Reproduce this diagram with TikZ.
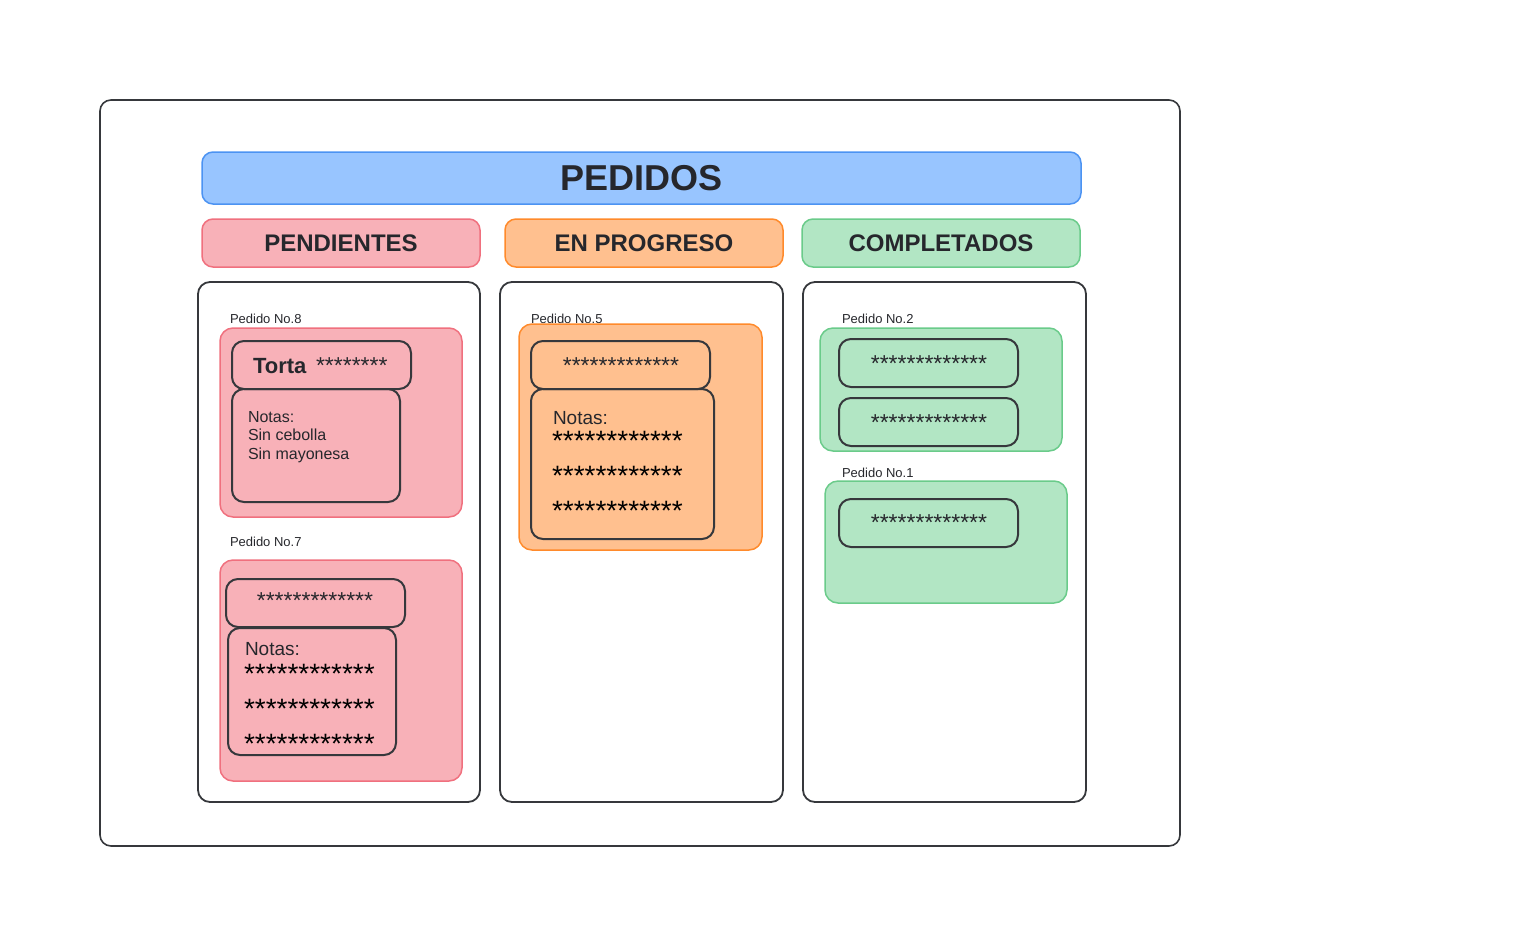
\documentclass[tikz,border=0pt]{standalone}
\usepackage{fontspec}
\setmainfont{Liberation Sans}
\usepackage{tikz}
\usetikzlibrary{positioning}

\definecolor{tinta}{HTML}{26272C}
\definecolor{marco}{HTML}{36383C}
\definecolor{azulF}{HTML}{98C5FF}
\definecolor{azulB}{HTML}{4C93F2}
\definecolor{rosaF}{HTML}{F8B1B8}
\definecolor{rosaB}{HTML}{F0707E}
\definecolor{naranjaF}{HTML}{FFC08F}
\definecolor{naranjaB}{HTML}{FF8A2B}
\definecolor{verdeF}{HTML}{B2E6C4}
\definecolor{verdeB}{HTML}{6ACB8A}

\begin{document}
\begin{tikzpicture} [
        x=1pt, y=-1pt,
        every node/.style={inner sep=0pt, outer sep=0pt, text=tinta},
        tam/.style 2 args={anchor=north west, minimum width=#1pt, minimum height=#2pt},
        tablero/.style={draw=marco, line width=1.6pt, rounded corners=11pt},
        columna/.style={draw=marco, line width=1.8pt, rounded corners=12pt},
        cabecera/.style={rounded corners=11pt, line width=1.5pt, font=\bfseries\fontsize{24}{28}\selectfont},
        tarjeta/.style={rounded corners=13pt, line width=1.5pt},
        renglon/.style={draw=marco, line width=2pt, rounded corners=12pt},
        rosa/.style={fill=rosaF, draw=rosaB},
        naranja/.style={fill=naranjaF, draw=naranjaB},
        verde/.style={fill=verdeF, draw=verdeB},
        pedido/.style={anchor=base west, font=\fontsize{13}{15}\selectfont},
        estrellas/.style={anchor=base, font=\fontsize{23}{26}\selectfont},
        notas/.style={anchor=north west, align=left, font=\fontsize{16}{18.5}\selectfont},
        notasG/.style={anchor=base west, font=\fontsize{19}{22}\selectfont},
        filas/.style={anchor=north west, align=left, font=\fontsize{28}{35}\selectfont, text=black}
    ]
    \useasboundingbox (0,0) rectangle (1536,946);

    \node[tablero, tam={1080}{746}] (marco) at (100,100) {};
    \node[cabecera, fill=azulF, draw=azulB, tam={879}{52},
          font=\bfseries\fontsize{36}{40}\selectfont]      (pedidos)     at (202,152) {PEDIDOS};

    \node[cabecera, rosa,    tam={278}{48}]               (pendientes)  at (202,219) {PENDIENTES};
    \node[cabecera, naranja, tam={278}{48}]               (progreso)    at (505,219) {EN PROGRESO};
    \node[cabecera, verde,   tam={278}{48}]               (completados) at (802,219) {COMPLETADOS};

    \node[columna, tam={282}{520}] (col1) at (198,282) {};
    \node[columna, tam={283}{520}] (col2) at (500,282) {};
    \node[columna, tam={283}{520}] (col3) at (803,282) {};

    % pendientes
    \node[pedido]                  (p8)      at (230,323) {Pedido No.8};
    \node[tarjeta, rosa, tam={242}{189}] (t8) at (220,328) {};
    \node[renglon, tam={179}{48}]  (torta)   at (232,341) {};
    \node[anchor=base west, font=\bfseries\fontsize{22}{26}\selectfont]
                                   (tortaT)  at (253,373) {Torta};
    \node[anchor=base west, font=\fontsize{23}{26}\selectfont]
                                   (tortaE)  at (316,373) {********};
    \node[renglon, tam={168}{113}, below=0pt of torta.south west, anchor=north west] (n8) {};
    \node[notas]                   (n8T)     at (248,411) {Notas:\\Sin cebolla\\Sin mayonesa};

    \node[pedido]                  (p7)      at (230,546) {Pedido No.7};
    \node[tarjeta, rosa, tam={242}{221}] (t7) at (220,560) {};
    \node[renglon, tam={179}{48}]  (r7)      at (226,579) {};
    \node[estrellas]               (r7E)     at (315,608) {*************};
    \node[renglon, tam={168}{127}] (n7)      at (228,628) {};
    \node[notasG]                  (n7T)     at (245,655) {Notas:};
    \node[filas]                   (n7E)     at (244,664) {************\\************\\************};

    % en progreso
    \node[pedido]                  (p5)      at (531,323) {Pedido No.5};
    \node[tarjeta, naranja, tam={243}{226}] (t5) at (519,324) {};
    \node[renglon, tam={179}{48}]  (r5)      at (531,341) {};
    \node[estrellas]               (r5E)     at (621,373) {*************};
    \node[renglon, tam={183}{150}, below=0pt of r5.south west, anchor=north west] (n5) {};
    \node[notasG]                  (n5T)     at (553,424) {Notas:};
    \node[filas]                   (n5E)     at (552,431) {************\\************\\************};

    % completados
    \node[pedido]                  (p2)      at (842,323) {Pedido No.2};
    \node[tarjeta, verde, tam={242}{123}] (t2) at (820,328) {};
    \node[renglon, tam={179}{48}]  (r2a)     at (839,339) {};
    \node[estrellas]               (r2aE)    at (929,371) {*************};
    \node[renglon, tam={179}{48}]  (r2b)     at (839,398) {};
    \node[estrellas]               (r2bE)    at (929,430) {*************};

    \node[pedido]                  (p1)      at (842,477) {Pedido No.1};
    \node[tarjeta, verde, tam={242}{122}] (t1) at (825,481) {};
    \node[renglon, tam={179}{48}]  (r1)      at (839,499) {};
    \node[estrellas]               (r1E)     at (929,530) {*************};
\end{tikzpicture}
\end{document}
